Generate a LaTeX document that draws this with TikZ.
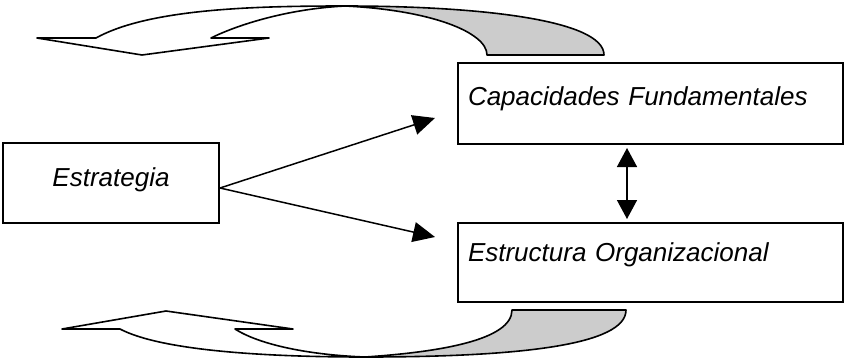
\documentclass[tikz,border=0pt]{standalone}
\usepackage{fontspec}
\setmainfont{Liberation Sans}
\usepackage{tikz}
\usetikzlibrary{arrows.meta}
\tikzset{>={Triangle[length=22pt,width=20pt]}}
\tikzset{
  caja/.style={draw,line width=2pt,inner sep=0pt,text height=19pt,
    font=\fontsize{26}{30}\selectfont\itshape},
  cinta/.style={draw,line width=1.6pt,line join=round},
}

\begin{document}
\begin{tikzpicture}[x=1pt,y=-1pt]
      \useasboundingbox (0,0) rectangle (844,360);

      % the three boxes
      \node[caja,minimum width=216pt,minimum height=80pt,text depth=13pt] at (111,183) (Est) {Estrategia};
      \node[caja,minimum width=385pt,minimum height=81pt,text width=365pt,align=left,text depth=16pt] at (650.5,103.5) (Cap) {Capacidades Fundamentales};
      \node[caja,minimum width=385pt,minimum height=79pt,text width=365pt,align=left,text depth=22pt] at (650.5,262.5) (Org) {Estructura Organizacional};

      \draw[->,line width=1.5pt] ([yshift=-5pt]Est.east) -- ([xshift=-22pt,yshift=-14.5pt]Cap.west);
      \draw[->,line width=1.5pt] ([yshift=-5pt]Est.east) -- ([xshift=-22pt,yshift=25.5pt]Org.west);
      \draw[{Triangle[length=19pt,width=20pt]}-{Triangle[length=19pt,width=20pt]},line width=1.5pt] ([xshift=-23.5pt,yshift=-3pt]Cap.south) -- ([xshift=-23.5pt,yshift=3pt]Org.north);

      % curved arrow on top
      \filldraw[cinta,fill=gray!40] (345,6) .. controls (480,6) and (604,20) .. (604,55)
          -- (487,55) .. controls (487,32) and (430,10) .. (345,6) -- cycle;
      \filldraw[cinta,fill=white] (96,38) .. controls (150,8) and (260,6) .. (345,6)
          .. controls (285,9) and (235,26) .. (211,38) -- (269,38) -- (142,55) -- (37,38) -- cycle;

      % curved arrow below
      \filldraw[cinta,fill=gray!40] (365,357) .. controls (520,357) and (626,345) .. (626,310)
          -- (512,310) .. controls (512,340) and (440,352) .. (365,357) -- cycle;
      \filldraw[cinta,fill=white] (120,329) .. controls (160,350) and (260,357) .. (365,357)
          .. controls (310,355) and (260,345) .. (235,329) -- (293,329) -- (166,311) -- (62,329) -- cycle;

\end{tikzpicture}
\end{document}
